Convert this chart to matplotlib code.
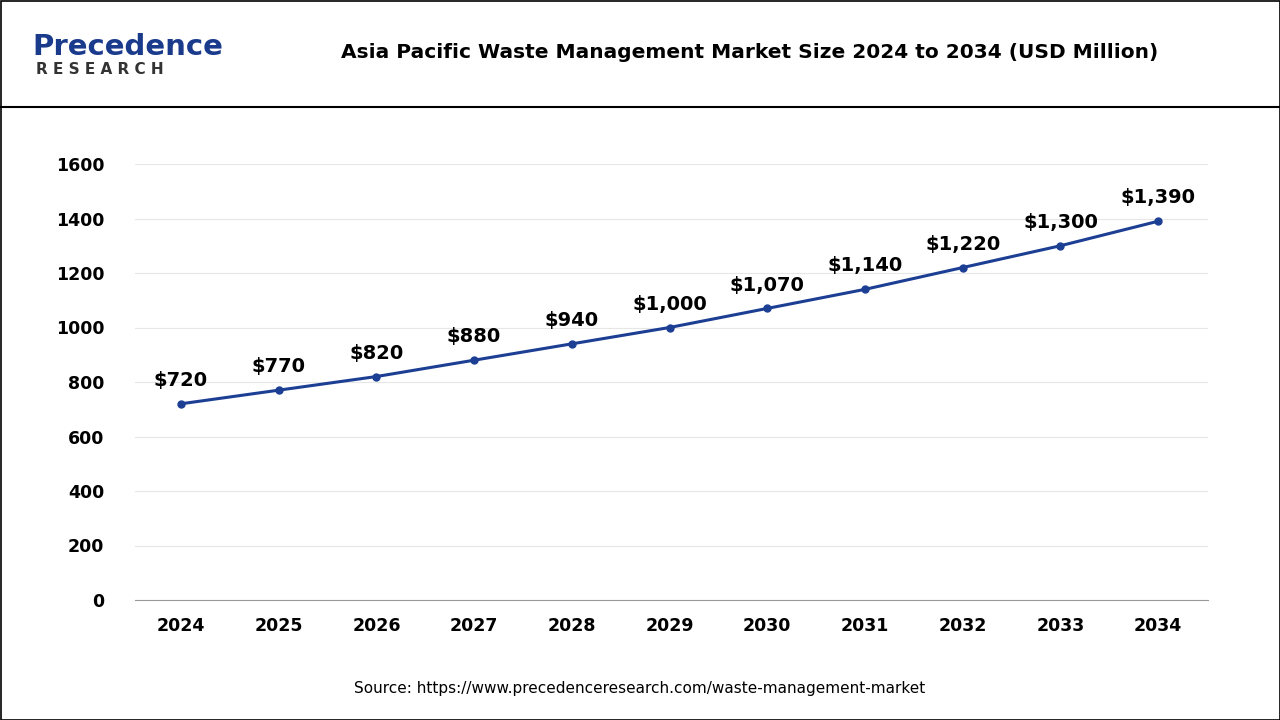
import matplotlib
matplotlib.use("Agg")
import matplotlib.pyplot as plt
from matplotlib.lines import Line2D
from matplotlib.patches import Rectangle

years = ["2024","2025","2026","2027","2028","2029","2030","2031","2032","2033","2034"]
values = [720,770,820,880,940,1000,1070,1140,1220,1300,1390]
labels = ["$720","$770","$820","$880","$940","$1,000","$1,070","$1,140","$1,220","$1,300","$1,390"]
yticks = [0,200,400,600,800,1000,1200,1400,1600]

W, H = 1280, 720
fig = plt.figure(figsize=(W/100, H/100), dpi=100)
fig.patch.set_facecolor("white")
fig.add_artist(Rectangle((0.5/W, 0.5/H), 1-1/W, 1-1/H, transform=fig.transFigure, fill=False, ec="black", lw=1.2))
fig.add_artist(Line2D([0,1],[1-107/H]*2, transform=fig.transFigure, color="black", lw=1.5))

fig.text(750/W, 1-53/H, "Asia Pacific Waste Management Market Size 2024 to 2034 (USD Million)",
         ha="center", va="center", fontsize=14.5, fontweight="bold", family="DejaVu Sans")
fig.text(32/W, 1-47/H, "Precedence", ha="left", va="center", fontsize=21, color="#1a3a8c", fontweight="bold")
fig.text(36/W, 1-70/H, "R E S E A R C H", ha="left", va="center", fontsize=11, color="#333333", fontweight="bold")
fig.text(640/W, 1-689/H, "Source: https://www.precedenceresearch.com/waste-management-market",
         ha="center", va="center", fontsize=11)

ax = fig.add_axes([135/W, 1-600/H, (1208-135)/W, (600-164)/H])
x = list(range(len(years)))
ax.plot(x, values, color="#1c3f94", lw=2.2, marker="o", ms=5)
for xi, v, l in zip(x, values, labels):
    ax.annotate(l, (xi, v), xytext=(0, 10), textcoords="offset points", ha="center", va="bottom",
                fontsize=14, fontweight="bold")
ax.set_xlim(-0.47, len(years)-1+0.51)
ax.set_ylim(0, 1600)
ax.set_yticks(yticks)
ax.set_xticks(x)
ax.set_xticklabels(years)
ax.grid(axis="y", color="#e6e6e6", lw=0.8)
ax.set_axisbelow(True)
for s in ["top","right","left"]:
    ax.spines[s].set_visible(False)
ax.spines["bottom"].set_color("#999999")
ax.tick_params(length=0, labelsize=12.5, pad=12)
for t in ax.get_xticklabels()+ax.get_yticklabels():
    t.set_fontweight("bold")
ax.tick_params(axis="y", pad=22)
fig.savefig("out.png", dpi=100)
